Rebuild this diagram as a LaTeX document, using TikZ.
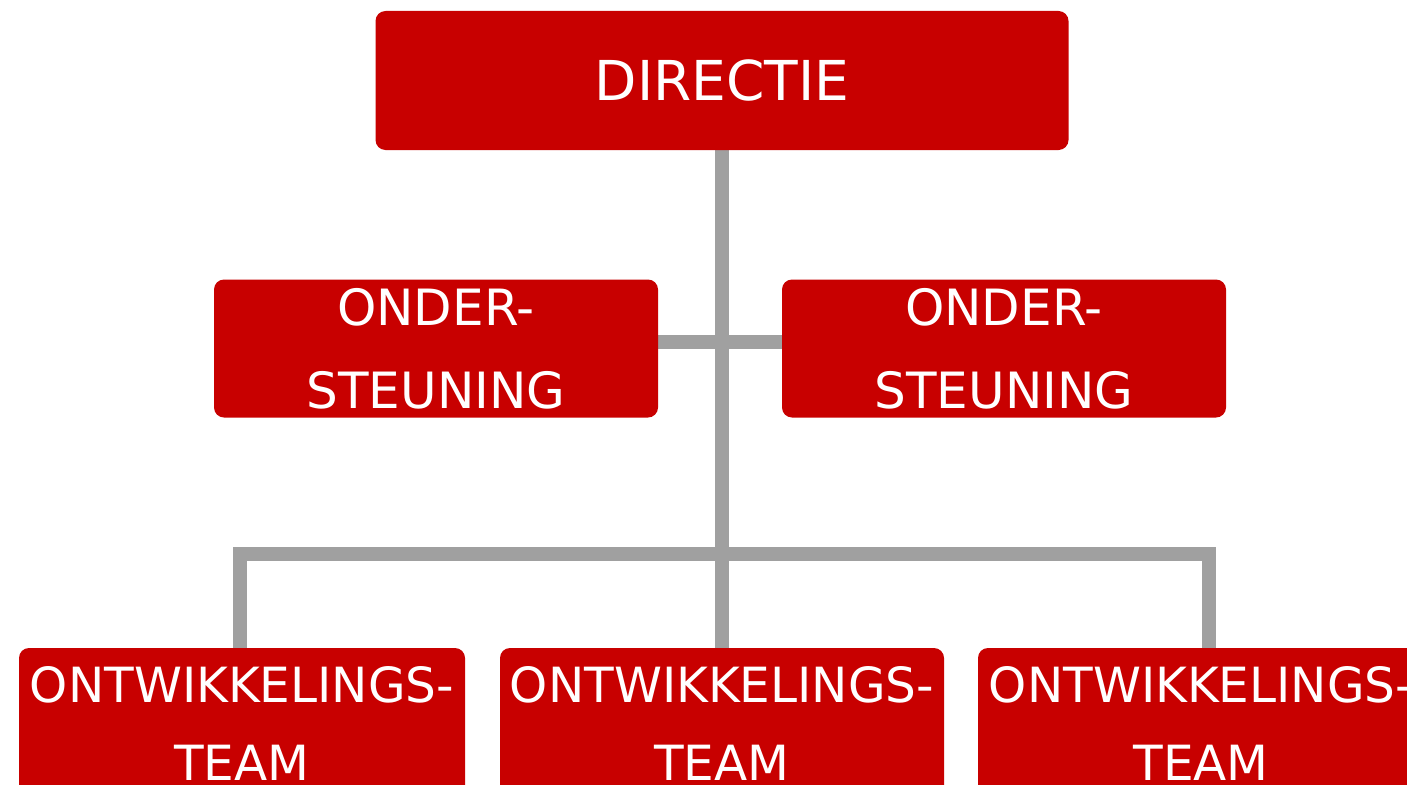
\documentclass[tikz,border=0pt]{standalone}
\usepackage{fontspec}
\setmainfont{DejaVu Sans}
\usetikzlibrary{backgrounds}
\definecolor{boxred}{RGB}{200,0,0}
\definecolor{linegray}{RGB}{160,160,160}
\begin{document}
\begin{tikzpicture}[x=1pt,y=-1pt,
  box/.style={fill=boxred, rounded corners=10pt, text=white, align=center, inner sep=0pt},
  conn/.style={draw=linegray, line width=14pt, line join=miter, line cap=butt}]
\useasboundingbox (0,0) rectangle (1407,784);
\clip (0,0) rectangle (1407,784);

% junctions
\coordinate (j) at (722,341.5);
\coordinate (dL) at (240,554);
\coordinate (dR) at (1209,554);

\node[box, minimum width=693pt, minimum height=139pt, font={\fontsize{55}{66}\selectfont}] (dir) at (722,80.5) {DIRECTIE};
\node[box, minimum width=444pt, minimum height=138pt, font={\fontsize{50}{83}\selectfont}] (ondL) at (436,348.5) {ONDER-\\STEUNING};
\node[box, minimum width=444pt, minimum height=138pt, font={\fontsize{50}{83}\selectfont}] (ondR) at (1004,348.5) {ONDER-\\STEUNING};
\node[box, minimum width=446pt, minimum height=151pt, font={\fontsize{48.5}{78}\selectfont}] (teamL) at (242,723.5) {ONTWIKKELINGS-\\TEAM};
\node[box, minimum width=444pt, minimum height=151pt, font={\fontsize{48.5}{78}\selectfont}] (teamM) at (722,723.5) {ONTWIKKELINGS-\\TEAM};
\node[box, minimum width=446pt, minimum height=151pt, font={\fontsize{48.5}{78}\selectfont}] (teamR) at (1201,723.5) {ONTWIKKELINGS-\\TEAM};

\begin{scope}[on background layer]
\fill[white] (0,0) rectangle (1407,784);
\draw[conn] (dir.south) -- (teamM.north);
\draw[conn] (ondL.east |- j) -- (ondR.west |- j);
\draw[conn] (dL |- teamL.north) -- (dL) -- (dR) -- (dR |- teamR.north);
\end{scope}
\end{tikzpicture}
\end{document}
